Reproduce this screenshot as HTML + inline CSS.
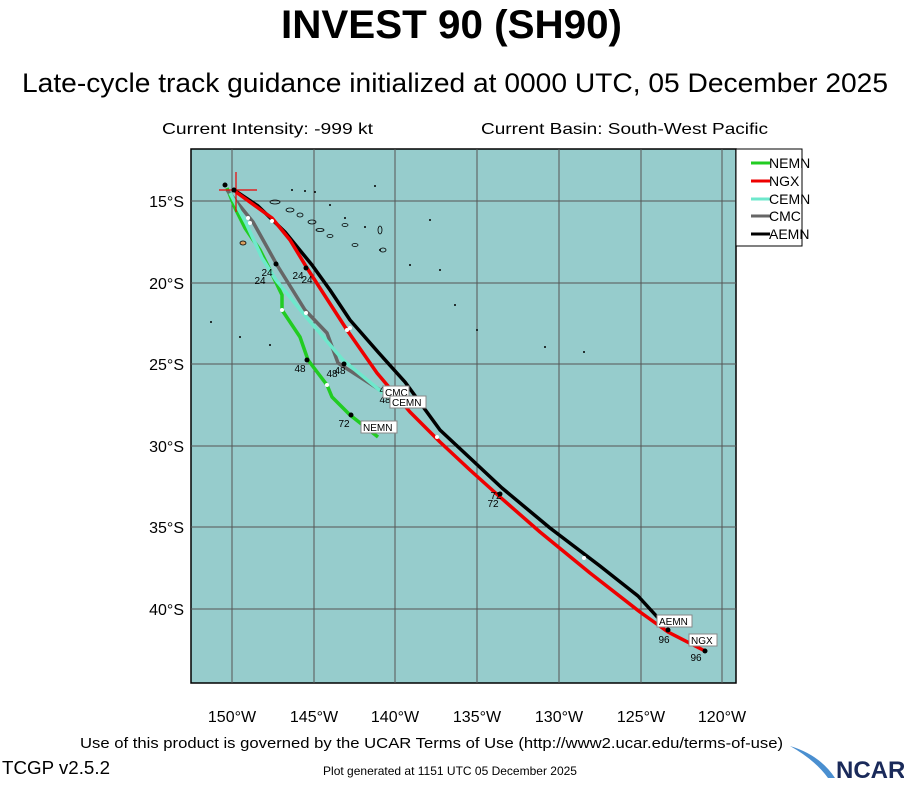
<!DOCTYPE html>
<html><head><meta charset="utf-8"><style>
body{margin:0;background:#fff;width:904px;height:780px;overflow:hidden;font-family:"Liberation Sans",sans-serif}
</style></head><body>
<svg width="904" height="780" xmlns="http://www.w3.org/2000/svg" font-family="Liberation Sans, sans-serif">
<text x="281" y="38" font-size="40" font-weight="bold" textLength="341" lengthAdjust="spacingAndGlyphs">INVEST 90 (SH90)</text>
<text x="22" y="92" font-size="27" textLength="866" lengthAdjust="spacingAndGlyphs">Late-cycle track guidance initialized at 0000 UTC, 05 December 2025</text>
<text x="162" y="134" font-size="16" textLength="211" lengthAdjust="spacingAndGlyphs">Current Intensity: -999 kt</text>
<text x="481" y="134" font-size="16" textLength="287" lengthAdjust="spacingAndGlyphs">Current Basin: South-West Pacific</text>
<rect x="191" y="149" width="545" height="534" fill="#96cccc" stroke="#000" stroke-width="1.5"/>
<g stroke="#555" stroke-width="1">
<line x1="232" y1="149" x2="232" y2="683"/><line x1="314" y1="149" x2="314" y2="683"/><line x1="395" y1="149" x2="395" y2="683"/><line x1="477" y1="149" x2="477" y2="683"/><line x1="559" y1="149" x2="559" y2="683"/><line x1="641" y1="149" x2="641" y2="683"/><line x1="722" y1="149" x2="722" y2="683"/>
<line x1="191" y1="201" x2="736" y2="201"/><line x1="191" y1="283" x2="736" y2="283"/><line x1="191" y1="364" x2="736" y2="364"/><line x1="191" y1="446" x2="736" y2="446"/><line x1="191" y1="527" x2="736" y2="527"/><line x1="191" y1="609" x2="736" y2="609"/>
</g>
<g fill="#000"><circle cx="292" cy="190" r="1"/><circle cx="305" cy="191" r="1"/><circle cx="315" cy="192" r="1"/><circle cx="330" cy="205" r="1"/><circle cx="345" cy="218" r="1"/><circle cx="365" cy="227" r="1"/><circle cx="380" cy="250" r="1"/><circle cx="410" cy="265" r="1"/><circle cx="440" cy="270" r="1"/><circle cx="455" cy="305" r="1"/><circle cx="477" cy="330" r="1"/><circle cx="545" cy="347" r="1"/><circle cx="584" cy="352" r="1"/><circle cx="211" cy="322" r="1"/><circle cx="240" cy="337" r="1"/><circle cx="270" cy="345" r="1"/><circle cx="375" cy="186" r="1"/><circle cx="430" cy="220" r="1"/></g>
<g fill="none" stroke="#000" stroke-width="0.8"><ellipse cx="275" cy="202" rx="5" ry="2"/><ellipse cx="290" cy="210" rx="4" ry="2"/><ellipse cx="300" cy="215" rx="3" ry="2"/><ellipse cx="312" cy="222" rx="4" ry="2"/><ellipse cx="320" cy="230" rx="4" ry="1.5"/><ellipse cx="330" cy="236" rx="3" ry="1.5"/><ellipse cx="345" cy="225" rx="3" ry="1.5"/><ellipse cx="355" cy="245" rx="3" ry="1.5"/><ellipse cx="380" cy="230" rx="2" ry="4"/><ellipse cx="383" cy="250" rx="3" ry="2"/><ellipse cx="243" cy="243" rx="3" ry="2" fill="#d9a060"/></g>
<g fill="none" stroke-linejoin="round" stroke-width="3.5">
<polyline stroke="#22cc22" points="227,188 235,208 245,228 260,250 270,270 282,295 282,310 300,337 308,360 327,385 332,397 350,415 378,437"/>
<polyline stroke="#666" points="227,190 253,222 267,247 277,265 305,310 327,333 338,363 380,390"/>
<polyline stroke="#6ee8cc" points="230,193 246,223 262,258 276,280 307,318 343,360 383,393 398,405"/>
<polyline stroke="#000" points="234,190 258,206 285,232 312,265 330,290 350,320 378,352 405,382 440,430 470,458 502,488 550,528 600,566 638,596 660,620"/>
<polyline stroke="#ee0000" points="236,192 272,218 290,240 307,268 347,330 377,373 410,412 440,442 470,470 500,497 540,532 590,573 640,612 668,632 705,651"/>
</g>
<g stroke="#ee0000" stroke-width="1.2"><line x1="219" y1="190" x2="257" y2="190"/><line x1="236" y1="172" x2="236" y2="212"/></g>
<g fill="#fff"><circle cx="250" cy="223" r="2"/><circle cx="282" cy="310" r="2"/><circle cx="327" cy="385" r="2"/><circle cx="306" cy="313" r="2"/><circle cx="272" cy="221" r="2"/><circle cx="347" cy="330" r="2"/><circle cx="437" cy="437" r="2"/><circle cx="584" cy="558" r="2"/><circle cx="248" cy="218" r="2"/><circle cx="350" cy="328" r="2"/></g>
<g fill="#000"><circle cx="234" cy="190" r="2.5"/><circle cx="225" cy="185" r="2.5"/><circle cx="276" cy="264" r="2.5"/><circle cx="306" cy="268" r="2.5"/><circle cx="307" cy="360" r="2.5"/><circle cx="344" cy="364" r="2.5"/><circle cx="351" cy="415" r="2.5"/><circle cx="500" cy="494" r="2.5"/><circle cx="668" cy="630" r="2.5"/><circle cx="705" cy="651" r="2.5"/></g>
<g font-size="10" text-anchor="middle"><text x="267" y="276">24</text><text x="260" y="284">24</text><text x="298" y="279">24</text><text x="307" y="283">24</text><text x="300" y="372">48</text><text x="332" y="377">48</text><text x="340" y="374">48</text><text x="385" y="393">48</text><text x="385" y="403">48</text><text x="344" y="427">72</text><text x="496" y="499">72</text><text x="493" y="507">72</text><text x="664" y="643">96</text><text x="696" y="661">96</text></g>
<g font-size="10"><rect x="383" y="386" width="26" height="12" fill="#fff" stroke="#888"/><text x="385" y="396">CMC</text>
<rect x="390" y="396" width="36" height="12" fill="#fff" stroke="#888"/><text x="392" y="406">CEMN</text>
<rect x="361" y="421" width="36" height="12" fill="#fff" stroke="#888"/><text x="363" y="431">NEMN</text>
<rect x="657" y="615" width="35" height="12" fill="#fff" stroke="#888"/><text x="659" y="625">AEMN</text>
<rect x="689" y="634" width="28" height="12" fill="#fff" stroke="#888"/><text x="691" y="644">NGX</text></g>
<rect x="736" y="149" width="66" height="97" fill="#fff" stroke="#000" stroke-width="1"/>
<g stroke-width="3"><line x1="751" y1="163" x2="770" y2="163" stroke="#22cc22"/><line x1="751" y1="181" x2="770" y2="181" stroke="#ee0000"/><line x1="751" y1="199" x2="770" y2="199" stroke="#6ee8cc"/><line x1="751" y1="216" x2="770" y2="216" stroke="#666"/><line x1="751" y1="234" x2="770" y2="234" stroke="#000"/></g>
<g font-size="14"><text x="769" y="168">NEMN</text><text x="769" y="186">NGX</text><text x="769" y="204">CEMN</text><text x="769" y="221">CMC</text><text x="769" y="239">AEMN</text></g>
<g font-size="16" text-anchor="end"><text x="184" y="207">15°S</text><text x="184" y="289">20°S</text><text x="184" y="370">25°S</text><text x="184" y="452">30°S</text><text x="184" y="533">35°S</text><text x="184" y="615">40°S</text></g>
<g font-size="16" text-anchor="middle"><text x="232" y="722">150°W</text><text x="314" y="722">145°W</text><text x="395" y="722">140°W</text><text x="477" y="722">135°W</text><text x="559" y="722">130°W</text><text x="641" y="722">125°W</text><text x="722" y="722">120°W</text></g>
<text x="80" y="748" font-size="15" textLength="703" lengthAdjust="spacingAndGlyphs">Use of this product is governed by the UCAR Terms of Use (http://www2.ucar.edu/terms-of-use)</text>
<text x="2" y="774" font-size="18" textLength="108" lengthAdjust="spacingAndGlyphs">TCGP v2.5.2</text>
<text x="450" y="775" text-anchor="middle" font-size="12">Plot generated at 1151 UTC   05 December 2025</text>
<path d="M790,746 Q820,755 835,778 L828,778 Q815,760 790,746Z" fill="#4a8fd0"/>
<text x="836" y="778" font-size="24" font-weight="bold" fill="#1a2a5a">NCAR</text>
</svg>
</body></html>
